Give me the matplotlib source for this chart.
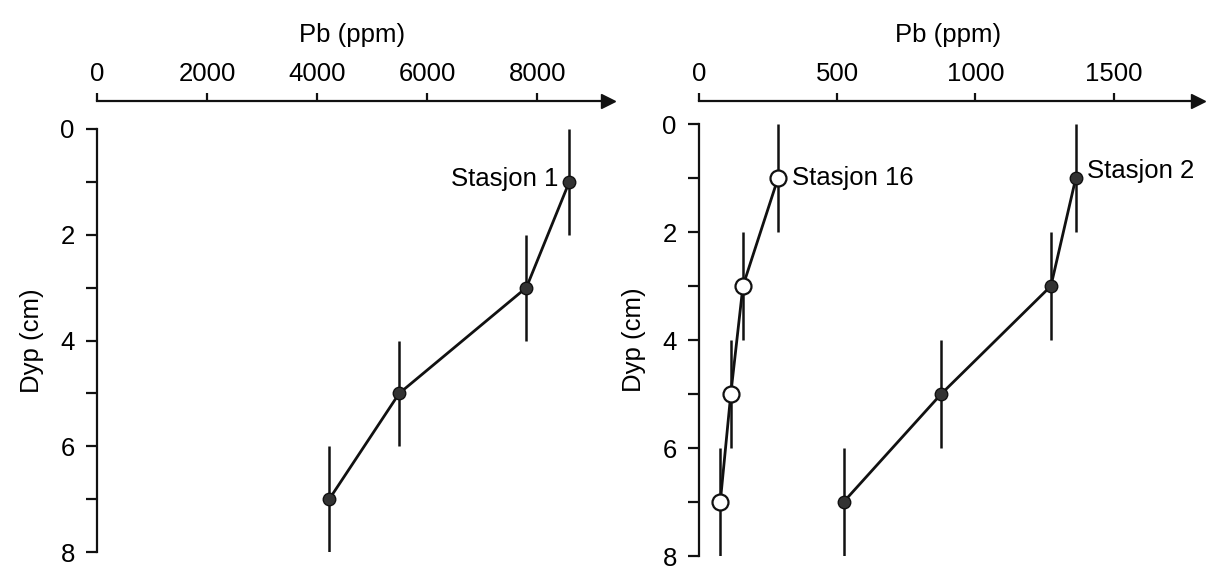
import matplotlib.pyplot as plt
from matplotlib.transforms import offset_copy

plt.rcParams['font.family'] = ['Liberation Sans', 'DejaVu Sans']

depth = [1, 3, 5, 7]
depth_err = [1, 1, 1, 1]
pb_st1 = [8580, 7800, 5490, 4220]
pb_st16 = [286, 159, 115, 77]
pb_st2 = [1363, 1273, 876, 523]

W, H = 1209, 569
FS = 18.5
INK = '#111111'
AXIS_Y = 101          # pixel row of the x axis line


def setup(ax, top, xmax, xticks):
    ax.set_xlim(0, xmax)
    ax.set_ylim(8, 0)
    ax.spines['right'].set_visible(False)
    ax.spines['bottom'].set_visible(False)
    out = top - AXIS_Y
    ax.spines['top'].set_position(('outward', out * 72 / 100))
    for s in ('top', 'left'):
        ax.spines[s].set_linewidth(1.6)
        ax.spines[s].set_color(INK)
    ax.xaxis.tick_top()
    ax.xaxis.set_label_position('top')
    ax.set_xticks(xticks)
    ax.set_yticks([0, 2, 4, 6, 8])
    ax.set_yticks([1, 3, 5, 7], minor=True)
    ax.tick_params(axis='x', direction='out', length=6, width=1.6, pad=5,
                   labelsize=FS, color=INK)
    ax.tick_params(axis='y', which='both', direction='out', length=8, width=1.6,
                   pad=8, labelsize=FS, color=INK)
    ax.set_xlabel('Pb (ppm)', fontsize=FS, labelpad=14)
    ax.set_ylabel('Dyp (cm)', fontsize=FS, labelpad=12)
    ax.patch.set_visible(False)
    # arrow head at the end of the x axis
    tr = offset_copy(ax.transAxes, fig=ax.figure, y=out, units='dots')
    ax.plot([1], [1], marker='>', ms=10, color=INK, transform=tr, clip_on=False)


def station(ax, x, filled):
    if filled:
        kw = dict(mfc='#333333', mec=INK, ms=9, mew=1)
    else:
        kw = dict(mfc='white', mec=INK, ms=11.5, mew=1.6)
    ax.errorbar(x, depth, yerr=depth_err, fmt='-o', color=INK, lw=2,
                elinewidth=1.8, capsize=0, zorder=3, **kw)


def box(left, right, top, bot):
    return [left / W, 1 - bot / H, (right - left) / W, (bot - top) / H]


fig = plt.figure(figsize=(W / 100, H / 100), dpi=100)

ax1 = fig.add_axes(box(97, 608, 129, 552))
setup(ax1, 129, 9283, [0, 2000, 4000, 6000, 8000])
station(ax1, pb_st1, True)
ax1.annotate('Stasjon 1', xy=(pb_st1[0], depth[0]), xytext=(-8, 2),
             textcoords='offset points', ha='right', va='center', fontsize=FS)

ax2 = fig.add_axes(box(699, 1198, 124, 556))
setup(ax2, 124, 1805, [0, 500, 1000, 1500])
station(ax2, pb_st16, False)
station(ax2, pb_st2, True)
ax2.annotate('Stasjon 16', xy=(pb_st16[0], depth[0]), xytext=(10, 0),
             textcoords='offset points', ha='left', va='center', fontsize=FS)
ax2.annotate('Stasjon 2', xy=(pb_st2[0], depth[0]), xytext=(8, 5),
             textcoords='offset points', ha='left', va='center', fontsize=FS)

fig.savefig('out.png', dpi=100)
